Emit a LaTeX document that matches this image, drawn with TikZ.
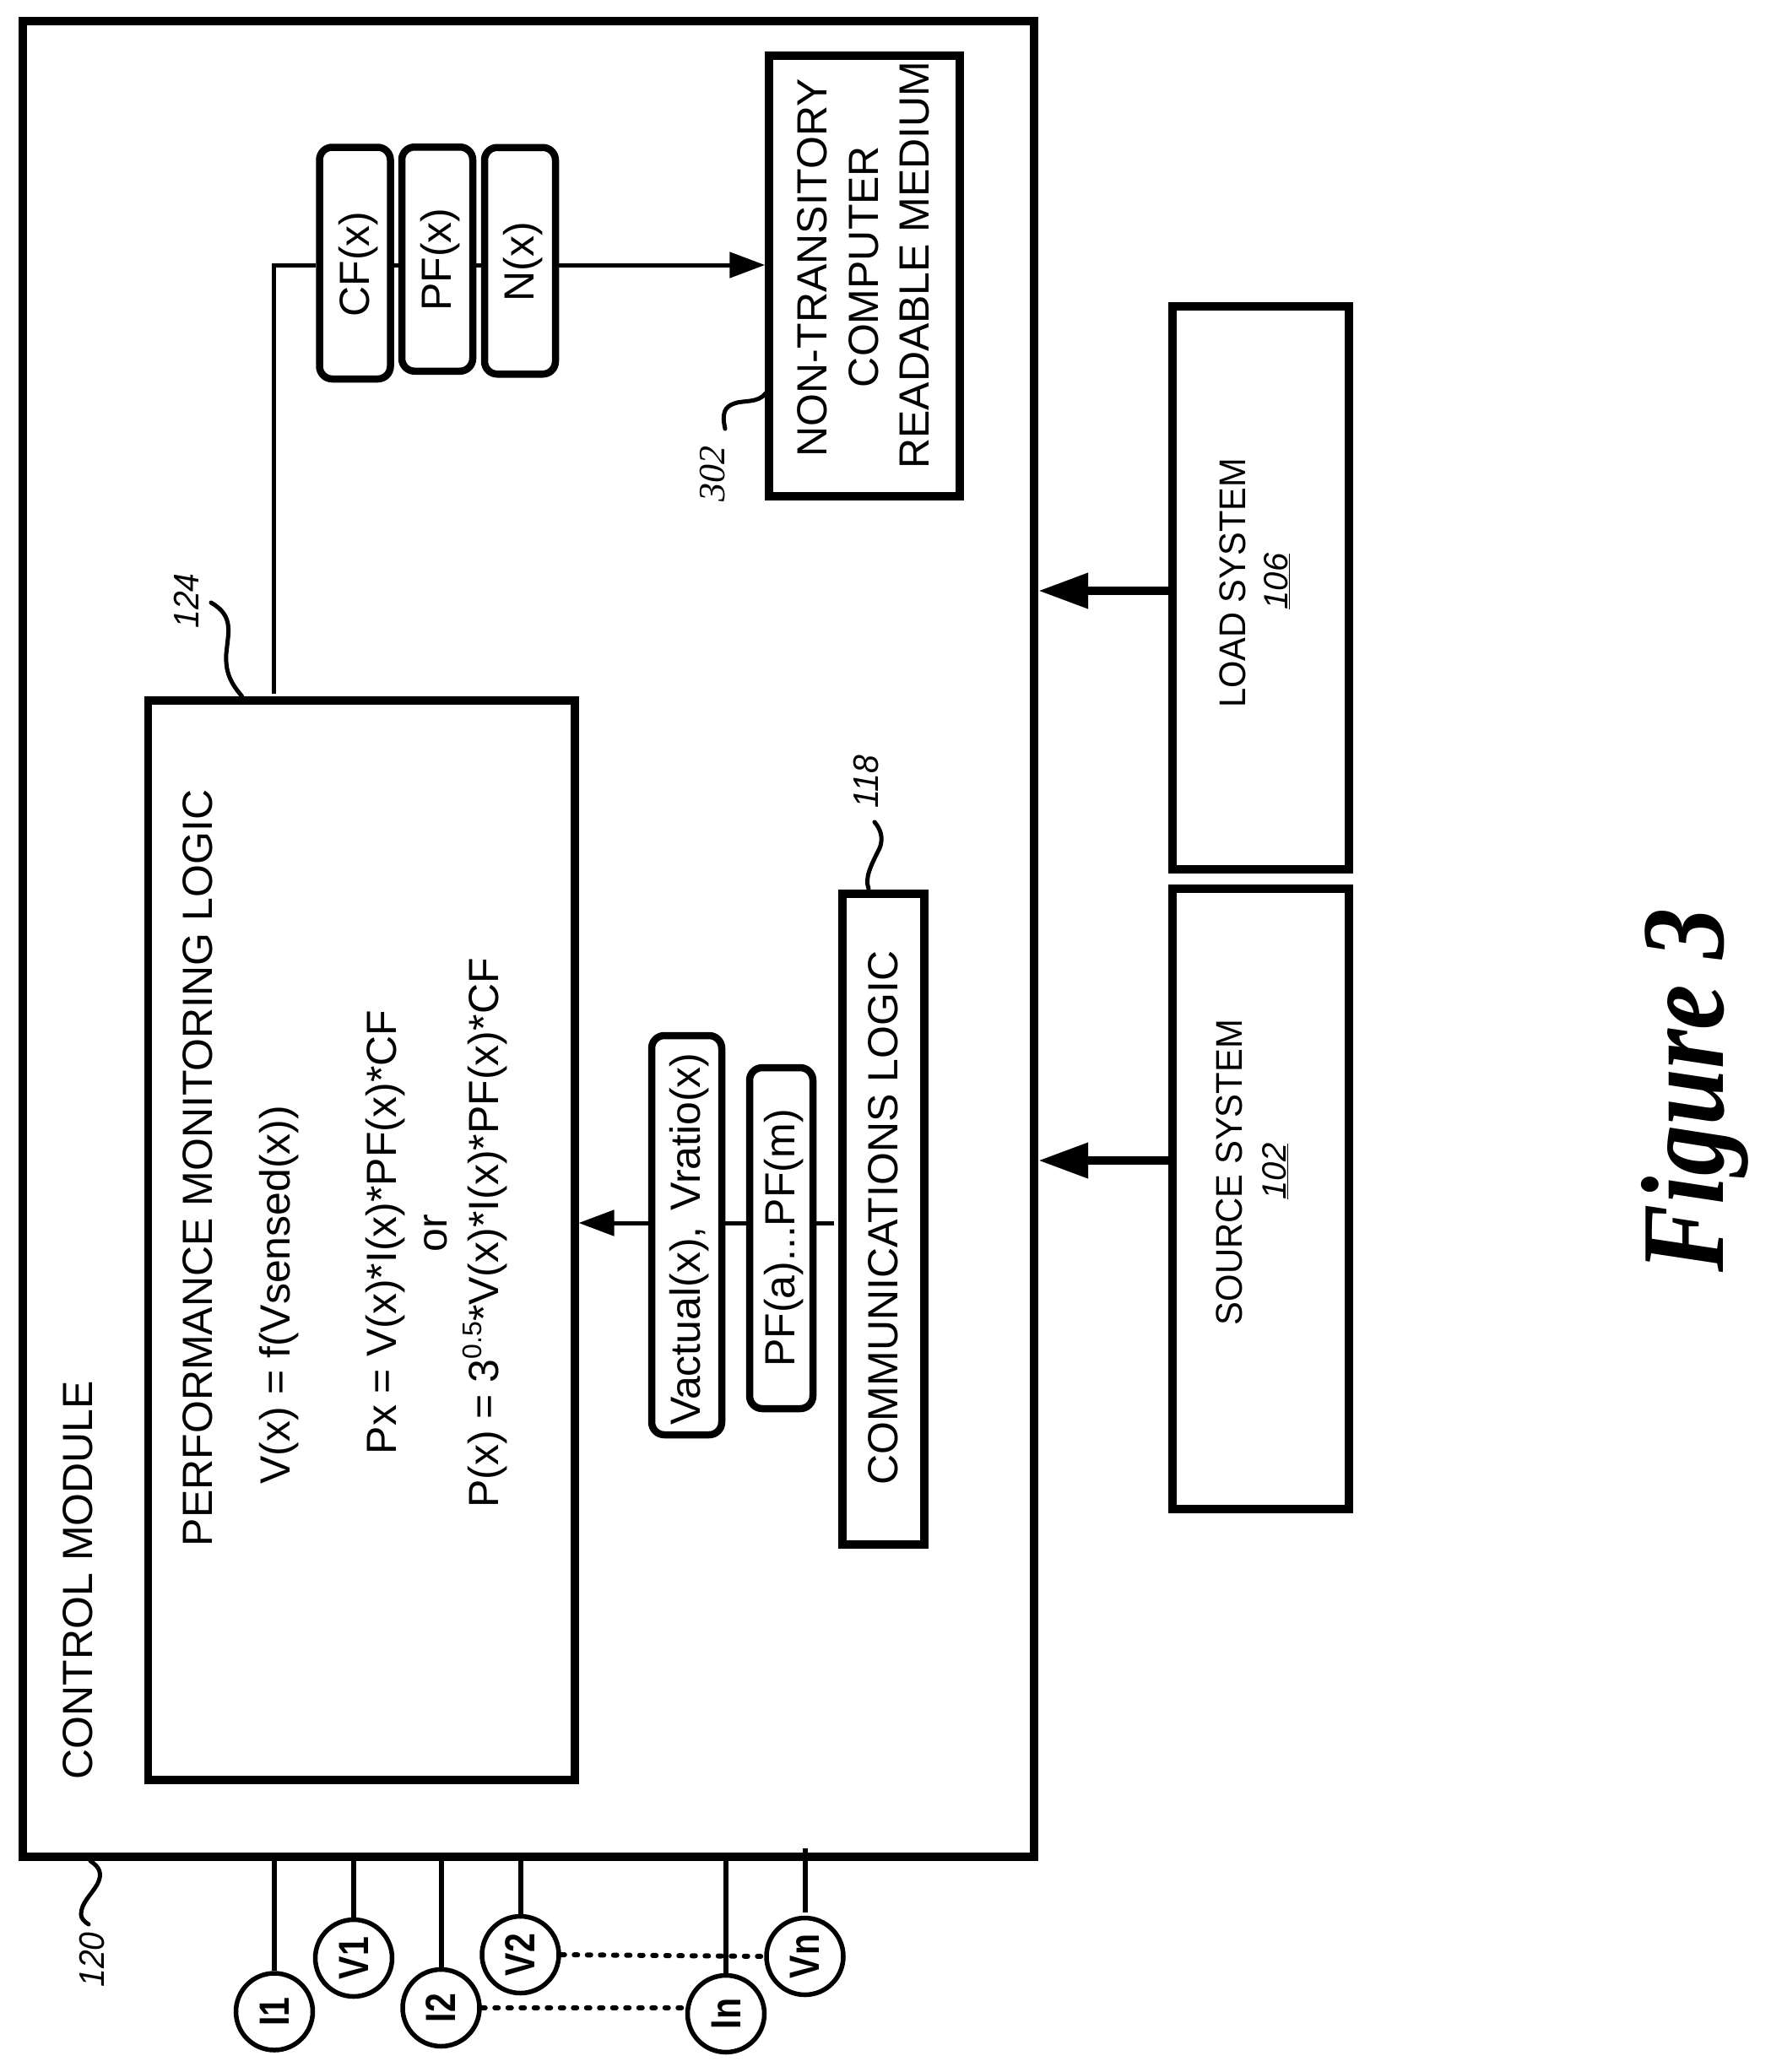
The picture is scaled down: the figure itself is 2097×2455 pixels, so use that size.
\documentclass[tikz,border=0pt]{standalone}
\usepackage{fontspec}
\setmainfont{Liberation Sans}
\newfontfamily\serfont{Liberation Serif}
\usetikzlibrary{arrows.meta,calc}
\newcommand{\SX}[2]{\scalebox{#1}[1]{#2}}
\tikzset{
  box/.style={draw,line width=#1,inner sep=0pt,rectangle},
  box/.default=9.5pt,
  pill/.style={draw,line width=8.5pt,inner sep=0pt,rectangle,rounded corners=15pt},
  probe/.style={draw,circle,line width=5.5pt,inner sep=0pt,minimum size=91pt,font=\fontsize{50}{50}\selectfont\bfseries},
  txt/.style={rotate=90,anchor=base,inner sep=0pt,font=\fontsize{50}{60}\selectfont},
  sys/.style={rotate=90,anchor=base,inner sep=0pt,font=\fontsize{44}{50}\selectfont},
  sysnum/.style={rotate=90,anchor=base,inner sep=0pt,font=\fontsize{40}{50}\selectfont\itshape},
  refnum/.style={rotate=90,anchor=base,inner sep=0pt,font=\fontsize{42}{44}\selectfont\itshape},
  wire/.style={line width=5pt},
  probewire/.style={line width=6pt},
  wirearrow/.style={line width=5pt,-{Triangle[length=42pt,width=30pt]}},
  busarrow/.style={line width=10pt,-{Triangle[length=59pt,width=40pt]}},
  dotline/.style={line width=6pt,line cap=round,dash pattern=on 4pt off 11.5pt},
  lead/.style={line width=5pt,line cap=round},
}
\begin{document}
\begin{tikzpicture}[x=1pt,y=-1pt]
\useasboundingbox (0,0) rectangle (2097,2455);
% boxes
\node[box=10pt,minimum width=1198pt,minimum height=2175pt] (main) at (626,1112.5) {};
\node[box,minimum width=505.5pt,minimum height=1279pt] (pml) at (428,1469.5) {};
\node[box,minimum width=226pt,minimum height=522pt] (nt) at (1024,327) {};
\node[pill,minimum width=84pt,minimum height=274.5pt] (cf) at (420.5,311.75) {};
\node[pill,minimum width=84pt,minimum height=265.5pt] (pf) at (518,307) {};
\node[pill,minimum width=84pt,minimum height=268.5pt] (nx) at (616,309) {};
\node[pill,minimum width=83pt,minimum height=473pt] (vact) at (813.5,1463.5) {};
\node[pill,minimum width=75pt,minimum height=404pt] (pfam) at (925.5,1467) {};
\node[box,minimum width=97pt,minimum height=771pt] (comm) at (1046.5,1444.5) {};
\node[box=10pt,minimum width=209pt,minimum height=667pt] (load) at (1493.5,696.5) {};
\node[box=10pt,minimum width=209pt,minimum height=735pt] (source) at (1493.5,1420.5) {};
% texts
\node[txt] (tcm) at (109,1872) {CONTROL MODULE};
\node[txt] (tpml) at (251,1384) {PERFORMANCE MONITORING LOGIC};
\node[txt] (tv) at (343,1534) {V(x) = f(Vsensed(x))};
\node[txt] (tpx) at (469,1460) {Px = V(x)*I(x)*PF(x)*CF};
\node[txt] (tor) at (529,1461) {or};
\node[txt] (tp) at (590,1461) {P(x) = 3\raisebox{20pt}{\fontsize{32}{32}\selectfont 0.5}*V(x)*I(x)*PF(x)*CF};
\node[txt] (tcf) at (437,313) {CF(x)};
\node[txt] (tpf) at (534,307.5) {PF(x)};
\node[txt] (tnx) at (632,310.5) {N(x)};
\node[txt] (tnt1) at (979,317) {NON-TRANSITORY};
\node[txt] (tnt2) at (1040,316) {COMPUTER};
\node[txt] (tnt3) at (1100,314) {READABLE MEDIUM};
\node[txt] (tvact) at (829,1468) {Vactual(x),\ \hspace{5pt}Vratio(x)};
\node[txt] (tpfam) at (941,1467) {PF(a)...PF(m)};
\node[txt] (tcomm) at (1063,1443) {COMMUNICATIONS LOGIC};
\node[sys] (tload) at (1475,691) {\SX{.945}{LOAD SYSTEM}};
\node[sysnum] (n106) at (1525,689) {\underline{106}};
\node[sys] (tsrc) at (1471,1389) {\SX{.95}{SOURCE SYSTEM}};
\node[sysnum] (n102) at (1523,1388) {\underline{102}};
\node[rotate=90,anchor=base,inner sep=0pt,font=\fontsize{140}{140}\selectfont\serfont\bfseries\itshape] (fig) at (2041,1292) {\SX{.86}{Figure 3}};
% probes
\node[probe] (i1) at (325,2383.5) {\rotatebox{90}{\SX{.82}{I1}}};
\node[probe] (v1) at (419,2320) {\rotatebox{90}{\SX{.82}{V1}}};
\node[probe] (i2) at (522.5,2379) {\rotatebox{90}{\SX{.82}{I2}}};
\node[probe] (v2) at (616.5,2316) {\rotatebox{90}{\SX{.82}{V2}}};
\node[probe] (in) at (860,2386) {\rotatebox{90}{\SX{.82}{In}}};
\node[probe] (vn) at (953.5,2318) {\rotatebox{90}{\SX{.82}{Vn}}};
% connectors
\draw[probewire] (i1.north) -- (main.south -| i1.north);
\draw[probewire] (v1.north) -- (main.south -| v1.north);
\draw[probewire] (i2.north) -- (main.south -| i2.north);
\draw[probewire] (v2.north) -- (main.south -| v2.north);
\draw[probewire] (in.north) -- (main.south -| in.north);
\draw[probewire,shorten <=4pt,shorten >=-15pt] (vn.north) -- (main.south -| vn.north);
\draw[dotline] (v2.east) -- (vn.west);
\draw[dotline] (i2.east) -- (in.west |- i2.east);
\draw[wire,shorten <=3pt] (pml.north -| 324.7,0) |- (cf.west |- 0,314);
\draw[wire] (cf.east |- 0,314) -- (pf.west |- 0,314);
\draw[wire] (pf.east |- 0,314) -- (nx.west |- 0,314);
\draw[wirearrow] (nx.east |- 0,314) -- (nt.west |- 0,314);
\draw[wire,shorten <=5pt] (comm.west |- 0,1449) -- (pfam.east |- 0,1449);
\draw[wire] (pfam.west |- 0,1449) -- (vact.east |- 0,1449);
\draw[wirearrow] (vact.west |- 0,1449) -- (pml.east |- 0,1449);
\draw[busarrow] (load.west |- 0,700) -- (main.east |- 0,700);
\draw[busarrow] (source.west |- 0,1375) -- (main.east |- 0,1375);
% reference numerals
\coordinate (s120a) at (107,2205); \coordinate (s120b) at (105,2280);
\draw[lead] (s120a) .. controls (118,2212) and (122,2220) .. (115,2233) .. controls (108,2245) and (96,2255) .. (96,2268) .. controls (96,2273) and (100,2277) .. (s120b);
\node[refnum] (r120) at (123,2322) {\SX{.93}{120}};
\coordinate (s124a) at (286.7,825); \coordinate (s124b) at (250,714);
\draw[lead] (s124a) .. controls (272,808) and (267,795) .. (268,775) .. controls (270,750) and (278,730) .. (s124b);
\node[refnum] (r124) at (235,712) {\SX{.93}{124}};
\coordinate (s118a) at (1029,1053); \coordinate (s118b) at (1036,974);
\draw[lead] (s118a) .. controls (1024,1040) and (1032,1025) .. (1042,1005) .. controls (1047,993) and (1043,982) .. (s118b);
\node[refnum] (r118) at (1040,926) {\SX{.93}{118}};
\coordinate (s302a) at (907,466); \coordinate (s302b) at (859,508);
\draw[lead] (s302a) .. controls (898,478) and (880,474) .. (870,478) .. controls (858,482) and (855,490) .. (s302b);
\node[rotate=90,anchor=base,inner sep=0pt,font=\fontsize{44}{44}\selectfont\serfont\itshape] (r302) at (858,561) {302};
\end{tikzpicture}
\end{document}
